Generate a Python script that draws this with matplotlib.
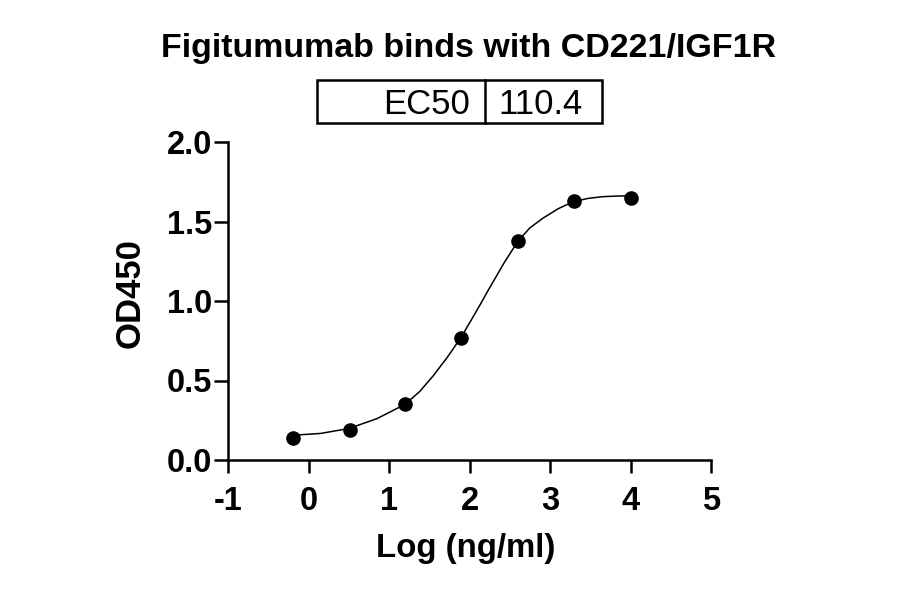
import numpy as np
import matplotlib
matplotlib.use("Agg")
import matplotlib.pyplot as plt
from matplotlib.patches import Rectangle

plt.rcParams['font.family'] = ['Liberation Sans', 'DejaVu Sans']
plt.rcParams['axes.unicode_minus'] = False

# measured points (log concentration, OD450)
log_conc = [-0.19, 0.51, 1.20, 1.90, 2.60, 3.30, 4.00]
od450 = [0.14, 0.19, 0.35, 0.77, 1.38, 1.63, 1.65]

# fitted curve
fit_x = [-0.19, 0.15, 0.50, 0.85, 1.20, 1.38, 1.55, 1.73, 1.90, 2.05, 2.13,
         2.25, 2.43, 2.60, 2.75, 2.91, 3.10, 3.29, 3.47, 3.65, 3.83, 4.00]
fit_y = [0.156, 0.167, 0.198, 0.260, 0.350, 0.430, 0.530, 0.650, 0.775, 0.905,
         0.975, 1.083, 1.240, 1.375, 1.460, 1.520, 1.580, 1.625, 1.645, 1.656,
         1.660, 1.662]

ec50_label = "EC50"
ec50_value = "110.4"

W, H = 900, 594
fig = plt.figure(figsize=(9, 5.94), dpi=100)
ax = fig.add_axes([228 / W, 1 - 460 / H, 483 / W, 318 / H])

ax.plot(fit_x, fit_y, color='black', lw=1.1, zorder=2)
ax.plot(log_conc, od450, 'o', color='black', ms=9.5, zorder=3)

ax.set_xlim(-1, 5)
ax.set_ylim(0, 2)
ax.set_xticks(range(-1, 6))
ax.set_yticks([0, 0.5, 1.0, 1.5, 2.0])
ax.set_yticklabels(['0.0', '0.5', '1.0', '1.5', '2.0'])

for s in ['top', 'right']:
    ax.spines[s].set_visible(False)
for s in ['left', 'bottom']:
    ax.spines[s].set_linewidth(1.8)
ax.tick_params(axis='both', width=1.8, labelsize=23.5, direction='out')
ax.tick_params(axis='y', length=10, pad=1.5)
ax.tick_params(axis='x', length=9.5, pad=9)
for lab in ax.get_xticklabels() + ax.get_yticklabels():
    lab.set_fontweight('bold')

fig.text(469 / W, 1 - 57 / H, "Figitumumab binds with CD221/IGF1R",
         ha='center', va='baseline', fontsize=24.5, fontweight='bold')
fig.text(466 / W, 1 - 549 / H, "Log (ng/ml)", ha='center', va='center',
         fontsize=23.8, fontweight='bold')
fig.text(130 / W, 1 - 293 / H, "OD450", ha='center', va='center',
         rotation=90, fontsize=25, fontweight='bold')

# EC50 box
x0, x1, xd = 317, 602, 485
y0, y1 = 80, 123
fig.add_artist(Rectangle((x0 / W, 1 - y1 / H), (x1 - x0) / W, (y1 - y0) / H,
                         transform=fig.transFigure, fill=False, lw=1.8,
                         edgecolor='black'))
fig.add_artist(plt.Line2D([xd / W, xd / W], [1 - y1 / H, 1 - y0 / H],
                          transform=fig.transFigure, color='black', lw=1.8))
fig.text(470 / W, 1 - 113.5 / H, ec50_label, ha='right', va='baseline',
         fontsize=25)
fig.text(498 / W, 1 - 113.5 / H, ec50_value, ha='left', va='baseline',
         fontsize=25)

fig.savefig("out.png", dpi=100)
